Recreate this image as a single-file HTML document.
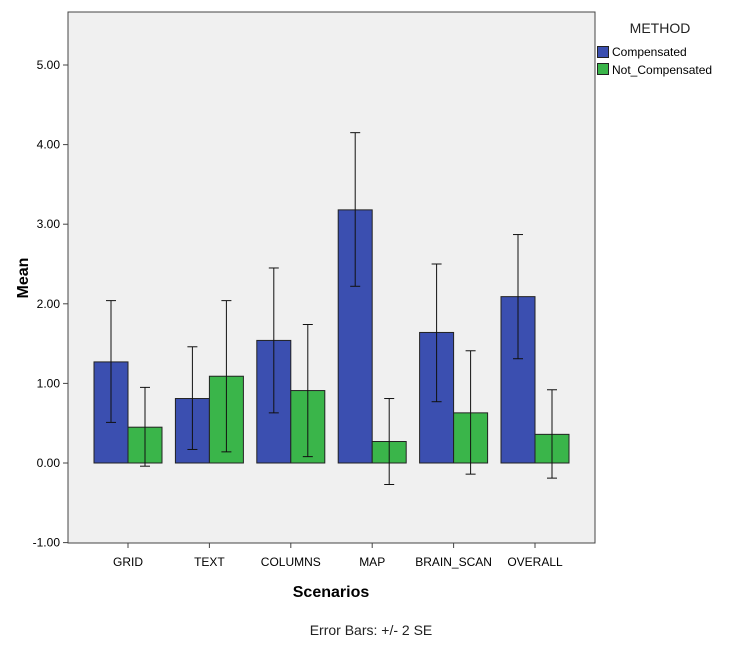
<!DOCTYPE html>
<html><head><meta charset="utf-8"><style>
body{margin:0;background:#fff;font-family:"Liberation Sans",sans-serif;}
svg text{font-family:"Liberation Sans",sans-serif;}
</style></head><body>
<svg id="chart" width="742" height="642">
<rect x="68" y="12" width="527" height="531" fill="#f0f0f0" stroke="#444" stroke-width="1"/>
<g id="axes"></g><g id="bars"></g>
<text x="28" y="278" transform="rotate(-90 28 278)" text-anchor="middle" font-size="16" font-weight="bold">Mean</text>
<text x="331" y="597" text-anchor="middle" font-size="16" font-weight="bold">Scenarios</text>
<text x="371" y="635" text-anchor="middle" font-size="14" fill="#222">Error Bars: +/- 2 SE</text>
<text x="660" y="33" text-anchor="middle" font-size="14" fill="#222">METHOD</text>
<g><rect x="597.5" y="46.5" width="11" height="11" fill="#3b4fb0" stroke="#222"/><text x="612" y="56" font-size="12">Compensated</text></g>
<g><rect x="597.5" y="63.5" width="11" height="11" fill="#3ab54a" stroke="#222"/><text x="612" y="74" font-size="12">Not_Compensated</text></g>
</svg>
<script>
const categories=["GRID","TEXT","COLUMNS","MAP","BRAIN_SCAN","OVERALL"];
const compMean=[1.27,0.81,1.54,3.18,1.64,2.09];
const compHi=[2.04,1.46,2.45,4.15,2.50,2.87];
const compLo=[0.51,0.17,0.63,2.22,0.77,1.31];
const ncMean=[0.45,1.09,0.91,0.27,0.63,0.36];
const ncHi=[0.95,2.04,1.74,0.81,1.41,0.92];
const ncLo=[-0.04,0.14,0.08,-0.27,-0.14,-0.19];
const yTicks=[-1,0,1,2,3,4,5];
const NS="http://www.w3.org/2000/svg";
const y=v=>463-v*79.6;
const x=i=>128+i*81.4;
const ax=document.getElementById('axes'),bg=document.getElementById('bars');
function mk(p,t,a){const e=document.createElementNS(NS,t);for(const k in a)e.setAttribute(k,a[k]);p.appendChild(e);return e;}
yTicks.forEach(t=>{
 const l=mk(ax,'line',{x1:63,x2:68,y1:y(t),y2:y(t),stroke:'#444'});
 
 
 const tx=mk(ax,'text',{x:60,y:y(t)+4,'text-anchor':'end','font-size':12});
 tx.textContent=t.toFixed(2);
 
 
});
categories.forEach((c,i)=>{
 const l=mk(ax,'line',{x1:x(i),x2:x(i),y1:543,y2:548,stroke:'#444'});
 
 
 const tx=mk(ax,'text',{x:x(i),y:566,'text-anchor':'middle','font-size':12});
 tx.textContent=c;
 
 
 [[compMean,compHi,compLo,'#3b4fb0',-34],[ncMean,ncHi,ncLo,'#3ab54a',0]].forEach(([m,h,lo,col,off],s)=>{
  const v=m[i],top=Math.min(y(v),y(0)),ht=Math.abs(y(v)-y(0));
  const r=mk(bg,'rect',{x:x(i)+off,y:top,width:34,height:ht,fill:col,stroke:'#222','stroke-width':1});
  
  
  const cx=x(i)+off+17;
  const g=mk(bg,'g',{stroke:'#111','stroke-width':1});
  
  
  mk(g,'line',{x1:cx,x2:cx,y1:y(h[i]),y2:y(lo[i])});
  mk(g,'line',{x1:cx-5,x2:cx+5,y1:y(h[i]),y2:y(h[i])});
  mk(g,'line',{x1:cx-5,x2:cx+5,y1:y(lo[i]),y2:y(lo[i])});
 });
});
</script>
</body></html>
